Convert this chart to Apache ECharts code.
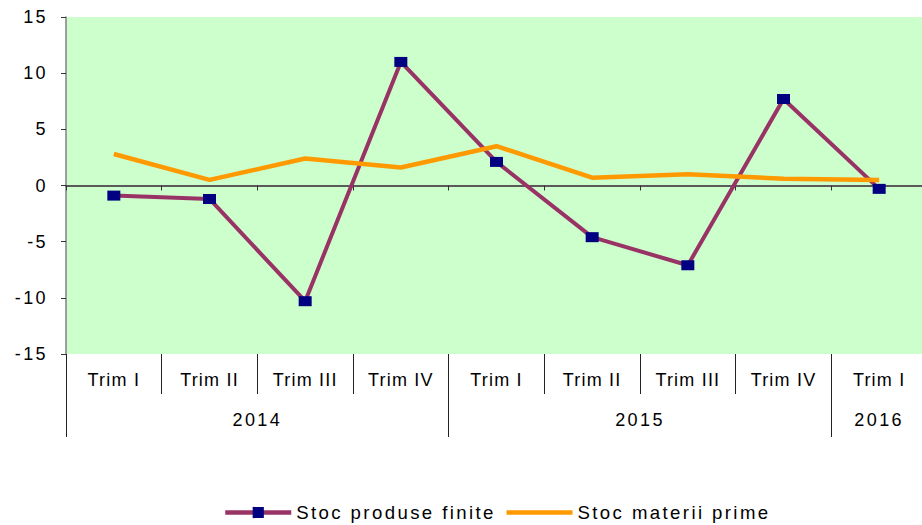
<!DOCTYPE html>
<html>
<head>
<meta charset="utf-8">
<script src="https://cdn.jsdelivr.net/npm/echarts@6/dist/echarts.min.js"></script>
<style>
html,body{margin:0;padding:0;background:#fff;}
#chart{width:922px;height:525px;}
#chart svg text{letter-spacing:2.4px;}
</style>
</head>
<body>
<div id="chart"></div>
<script>
// ---- data ----
var quarters = ['Trim I','Trim II','Trim III','Trim IV','Trim I','Trim II','Trim III','Trim IV','Trim I'];
var years = ['2014','2015','2016'];
var yearSizes = [4,4,1];
var stocProduseFinite = [-0.9, -1.2, -10.3, 11.0, 2.1, -4.6, -7.1, 7.7, -0.3];
var stocMateriiPrime = [2.8, 0.5, 2.4, 1.6, 3.5, 0.7, 1.0, 0.6, 0.5];
var yTicks = {min: -15, max: 15, interval: 5};

// year axis built on half-category points
var halfCount = quarters.length * 2 + 1;
var yearAxisData = [];
for (var i = 0; i < halfCount; i++) yearAxisData.push('');
var boundaries = {};
var start = 0;
for (var g = 0; g < years.length; g++) {
  boundaries[start * 2] = true;
  yearAxisData[start * 2 + yearSizes[g]] = years[g];
  start += yearSizes[g];
}
boundaries[start * 2] = true;

var font = '"Liberation Sans", Arial, sans-serif';
var chart = echarts.init(document.getElementById('chart'), null, {renderer: 'svg'});
chart.setOption({
  animation: false,
  backgroundColor: '#ffffff',
  textStyle: {fontFamily: font, color: '#000'},
  grid: {
    left: 66, top: 17, width: 861, height: 337,
    outerBoundsMode: 'none', containLabel: false,
    show: true, backgroundColor: '#CCFFCC', borderWidth: 0
  },
  legend: {
    left: 218, top: 498,
    itemWidth: 66, itemHeight: 14, itemGap: 54,
    lineStyle: {width: 4.5},
    textStyle: {fontFamily: font, fontSize: 18.6, color: '#000'},
    data: [
      {name: 'Stoc produse finite'},
      {name: 'Stoc materii prime', itemStyle: {opacity: 0}}
    ]
  },
  xAxis: [
    {
      type: 'category', data: quarters, position: 'bottom',
      axisLine: {onZero: true, lineStyle: {color: '#5a5a5a', width: 2}},
      axisTick: {show: true, length: 5, interval: 0, lineStyle: {color: '#333', width: 1}},
      axisLabel: {show: false},
      splitLine: {show: false}
    },
    {
      type: 'category', data: quarters, position: 'bottom',
      axisLine: {show: false, onZero: false},
      axisTick: {show: true, length: 40, interval: 0, lineStyle: {color: '#222', width: 1}},
      axisLabel: {interval: 0, margin: 17, fontSize: 18, fontFamily: font, color: '#000'},
      splitLine: {show: false}
    },
    {
      type: 'category', data: yearAxisData, position: 'bottom', boundaryGap: false,
      axisLine: {show: false, onZero: false},
      axisTick: {show: true, length: 83, interval: function (idx) { return !!boundaries[idx]; }, lineStyle: {color: '#222', width: 1}},
      axisLabel: {interval: 0, margin: 57, fontSize: 18, fontFamily: font, color: '#000'},
      splitLine: {show: false}
    }
  ],
  yAxis: {
    type: 'value', min: yTicks.min, max: yTicks.max, interval: yTicks.interval,
    axisLine: {show: true, lineStyle: {color: '#808080', width: 1.5}},
    axisTick: {show: true, length: 5, lineStyle: {color: '#333'}},
    axisLabel: {margin: 18, fontSize: 18, fontFamily: font, color: '#000'},
    splitLine: {show: false}
  },
  series: [
    {
      name: 'Stoc produse finite', type: 'line', data: stocProduseFinite,
      xAxisIndex: 0,
      symbol: 'rect', symbolSize: [13, 10], showAllSymbol: true,
      lineStyle: {color: '#993366', width: 4},
      itemStyle: {color: '#000080'},
      z: 2
    },
    {
      name: 'Stoc materii prime', type: 'line', data: stocMateriiPrime,
      xAxisIndex: 0,
      symbol: 'none',
      lineStyle: {color: '#FF9900', width: 4.5},
      itemStyle: {color: '#FF9900'},
      z: 3
    }
  ]
});

function tuneSpacing() {
  var texts = document.querySelectorAll('#chart svg text');
  for (var k = 0; k < texts.length; k++) {
    if (/^Trim/.test(texts[k].textContent)) texts[k].style.letterSpacing = '1.2px';
  }
}
chart.on('finished', tuneSpacing);
tuneSpacing();
setTimeout(tuneSpacing, 50);
</script>
</body>
</html>
